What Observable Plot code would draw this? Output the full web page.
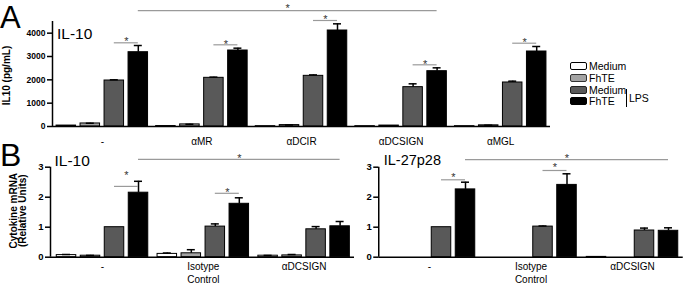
<!DOCTYPE html>
<html><head><meta charset="utf-8">
<script src="https://cdn.jsdelivr.net/npm/d3@7"></script>
<script src="https://cdn.jsdelivr.net/npm/@observablehq/plot@0.6"></script>
<style>
body{margin:0;background:#fff;font-family:"Liberation Sans",Arial,sans-serif;}
#fig{position:relative;width:685px;height:286px;overflow:hidden;background:#fff;}
.abs{position:absolute;white-space:nowrap;}
.letter{font-size:31px;line-height:1;color:#000;}
.lbox{position:absolute;left:570px;width:17px;height:8px;box-sizing:border-box;border:1px solid #000;border-radius:2px;}
.ltext{position:absolute;left:589px;font-size:10.5px;line-height:12px;color:#000;}
</style></head><body>
<div id="fig"></div>
<script>
// ---------- data ----------
const conditions = ["Medium", "FhTE", "LPS Medium", "LPS FhTE"];
const colors = ["#ffffff", "#a3a3a3", "#595959", "#000000"];

// Panel A : IL-10 protein (pg/mL)
const groupsA = ["-", "αMR", "αDCIR", "αDCSIGN", "αMGL"];
const mediumA = [40, 20, 15, 15, 15];
const fhteA = [130, 90, 60, 40, 50];
const lpsMediumA = [1971, 2086, 2171, 1686, 1886];
const lpsFhteA = [3184, 3257, 4114, 2371, 3214];
const mediumErrA = [0, 0, 0, 0, 0];
const fhteErrA = [10, 5, 5, 0, 5];
const lpsMediumErrA = [30, 30, 40, 143, 57];
const lpsFhteErrA = [287, 100, 286, 143, 215];
const yTicksA = [0, 1000, 2000, 3000, 4000];
const sigGroupsA = [0, 1, 2, 3, 4];
const sigYA = [3587, 3501, 4543, 2644, 3570];
const sigStarA = [3759, 3613, 4714, 2786, 3729];
const longA = {from: 0, to: 3, y: 4970, star: 5173};

// Panel B left : IL-10 mRNA (relative units)
const groupsB = ["-", "Isotype\nControl", "αDCSIGN"];
const mediumBL = [0.07, 0.11, 0.05];
const fhteBL = [0.05, 0.13, 0.06];
const lpsMediumBL = [1.0, 1.02, 0.93];
const lpsFhteBL = [2.15, 1.78, 1.03];
const mediumErrBL = [0.02, 0.03, 0.01];
const fhteErrBL = [0.01, 0.12, 0.03];
const lpsMediumErrBL = [0, 0.09, 0.09];
const lpsFhteErrBL = [0.38, 0.2, 0.16];
const yTicksB = [0, 1, 2, 3];
const sigGroupsBL = [0, 1];
const sigYBL = [2.36, 2.13];
const sigStarBL = [2.8, 2.25];
const longBL = {from: 0, to: 2, y: 3.26, star: 3.39};

// Panel B right : IL-27p28 mRNA (relative units)
const mediumBR = [0, 0, 0.01];
const fhteBR = [0, 0, 0];
const lpsMediumBR = [1.0, 1.02, 0.89];
const lpsFhteBR = [2.26, 2.41, 0.88];
const mediumErrBR = [0, 0, 0];
const fhteErrBR = [0, 0, 0];
const lpsMediumErrBR = [0, 0.02, 0.08];
const lpsFhteErrBR = [0.24, 0.37, 0.1];
const sigGroupsBR = [0, 1];
const sigYBR = [2.58, 2.89];
const sigStarBR = [2.75, 3.06];
const longBR = {from: 0, to: 2, y: 3.25, star: 3.39};

// ---------- drawing ----------
function makePanel(cfg) {
  const n = cfg.groups.length;
  const xDomain = [cfg.x0, n - 0.5];
  const unit = (cfg.width - cfg.marginLeft - cfg.marginRight) / (xDomain[1] - xDomain[0]);
  const pitch = 24 / unit, hw = 9.75 / unit, cap = 4 / unit;
  const barX = (gi, ci) => gi + (ci - 1.5) * pitch;
  const rows = [];
  cfg.series.forEach((vals, ci) => vals.forEach((v, gi) =>
    rows.push({gi, ci, value: v, err: cfg.errors[ci][gi], x: barX(gi, ci)})));
  const errRows = rows.filter(d => d.err > 0);
  const sigRows = cfg.sigGroups.map((g, i) => ({x1: barX(g, 2), x2: barX(g, 3), y: cfg.sigY[i], sy: cfg.sigStar[i]}));
  sigRows.push({x1: barX(cfg.long.from, 3), x2: barX(cfg.long.to, 3), y: cfg.long.y, sy: cfg.long.star});
  const marks = [
    Plot.rectY(rows, {x1: d => d.x - hw, x2: d => d.x + hw, y1: 0, y2: "value",
      fill: d => colors[d.ci], stroke: "#000", strokeWidth: 1}),
    Plot.ruleX(errRows, {x: "x", y1: "value", y2: d => d.value + d.err, stroke: "#000", strokeWidth: 1.5}),
    Plot.ruleY(errRows, {y: d => d.value + d.err, x1: d => d.x - cap, x2: d => d.x + cap, stroke: "#000", strokeWidth: 1.5}),
    Plot.ruleY(sigRows, {y: "y", x1: "x1", x2: "x2", stroke: "#9a9a9a", strokeWidth: 1.2}),
    Plot.text(sigRows, {x: d => (d.x1 + d.x2) / 2, y: "sy", text: () => "*", fontSize: 11, fill: "#333", dy: 2.5}),
    Plot.ruleX([xDomain[0]], {y1: 0, y2: cfg.yDomain[1], stroke: "#000", strokeWidth: 1.5}),
    Plot.ruleY([0], {x1: xDomain[0], x2: xDomain[1], stroke: "#000", strokeWidth: 1.5}),
    Plot.axisY({ticks: cfg.yTicks, tickFormat: d => String(d), tickSize: 5, tickPadding: 2,
      fontSize: cfg.tickSize, fontWeight: "bold", strokeWidth: 1.5, color: "#000", label: null}),
    Plot.axisX({ticks: d3.range(n), tickFormat: i => cfg.groups[i], tickSize: 0, tickPadding: cfg.groupPad,
      fontSize: 10, lineHeight: 1.3, color: "#000", label: null}),
    Plot.text([cfg.title], {frameAnchor: "top-left", textAnchor: "start", lineAnchor: "top",
      dx: cfg.titleDx, dy: cfg.titleDy, fontSize: cfg.titleSize, fill: "#000"})
  ];
  if (cfg.yLabel) marks.push(Plot.text([cfg.yLabel], {frameAnchor: "left", textAnchor: "middle", rotate: -90,
    dx: cfg.yLabelDx, dy: cfg.yLabelDy, fontSize: 10, fontWeight: "bold", lineHeight: 0.9, fill: "#000"}));
  const svg = Plot.plot({
    width: cfg.width, height: cfg.height,
    marginLeft: cfg.marginLeft, marginRight: cfg.marginRight,
    marginTop: cfg.marginTop, marginBottom: cfg.marginBottom,
    x: {type: "linear", domain: xDomain, axis: null},
    y: {type: "linear", domain: cfg.yDomain, axis: null},
    style: {background: "transparent", fontFamily: "Liberation Sans, Arial, sans-serif", overflow: "visible"},
    marks
  });
  svg.style.position = "absolute";
  svg.style.left = cfg.left + "px";
  svg.style.top = cfg.top + "px";
  svg.style.maxWidth = "none";
  return svg;
}

const fig = document.getElementById("fig");

fig.appendChild(makePanel({
  left: 0, top: 0, width: 560, height: 150,
  marginLeft: 52, marginRight: 10, marginTop: 21, marginBottom: 24,
  x0: -0.5, groups: groupsA,
  series: [mediumA, fhteA, lpsMediumA, lpsFhteA],
  errors: [mediumErrA, fhteErrA, lpsMediumErrA, lpsFhteErrA],
  yDomain: [0, 4500], yTicks: yTicksA, tickSize: 8.5,
  sigGroups: sigGroupsA, sigY: sigYA, sigStar: sigStarA, long: longA,
  groupPad: 9, title: "IL-10", titleDx: 4.5, titleDy: 6, titleSize: 15.5,
  yLabel: "IL10 (pg/mL)", yLabelDx: -45.5, yLabelDy: 1.5
}));

fig.appendChild(makePanel({
  left: 0, top: 140, width: 360, height: 146,
  marginLeft: 50, marginRight: 6, marginTop: 26.7, marginBottom: 29.3,
  x0: -0.516, groups: groupsB,
  series: [mediumBL, fhteBL, lpsMediumBL, lpsFhteBL],
  errors: [mediumErrBL, fhteErrBL, lpsMediumErrBL, lpsFhteErrBL],
  yDomain: [0, 3], yTicks: yTicksB, tickSize: 9.5,
  sigGroups: sigGroupsBL, sigY: sigYBL, sigStar: sigStarBL, long: longBL,
  groupPad: 4, title: "IL-10", titleDx: 4, titleDy: -12.7, titleSize: 15.5,
  yLabel: "Cytokine mRNA\n(Relative Units)", yLabelDx: -32.3, yLabelDy: -1.5
}));

fig.appendChild(makePanel({
  left: 340, top: 140, width: 345, height: 146,
  marginLeft: 38.25, marginRight: 2.25, marginTop: 26.7, marginBottom: 29.3,
  x0: -0.5, groups: groupsB,
  series: [mediumBR, fhteBR, lpsMediumBR, lpsFhteBR],
  errors: [mediumErrBR, fhteErrBR, lpsMediumErrBR, lpsFhteErrBR],
  yDomain: [0, 3], yTicks: yTicksB, tickSize: 9.5,
  sigGroups: sigGroupsBR, sigY: sigYBR, sigStar: sigStarBR, long: longBR,
  groupPad: 4, title: "IL-27p28", titleDx: 5, titleDy: -12.7, titleSize: 14.5,
  yLabel: null
}));

// panel letters
function addDiv(cls, text, styles) {
  const d = document.createElement("div");
  d.className = cls;
  d.textContent = text;
  Object.assign(d.style, styles);
  fig.appendChild(d);
  return d;
}
addDiv("abs letter", "A", {left: "0px", top: "2px"});
addDiv("abs letter", "B", {left: "0px", top: "139px", fontSize: "32px"});

// legend
const legendTops = [62, 73.5, 85.5, 97];
const legendBorders = ["#000", "#333", "#222", "#000"];
const legendLabels = ["Medium", "FhTE", "Medium", "FhTE"];
legendLabels.forEach((lab, i) => {
  addDiv("lbox", "", {top: legendTops[i] + "px", background: colors[i], borderColor: legendBorders[i]});
  addDiv("ltext", lab, {top: (legendTops[i] - 2) + "px"});
});
addDiv("abs", "", {left: "626px", top: "89px", width: "1px", height: "18px", background: "#000"});
addDiv("ltext", "LPS", {left: "629px", top: "92px"});
</script>
</body></html>
